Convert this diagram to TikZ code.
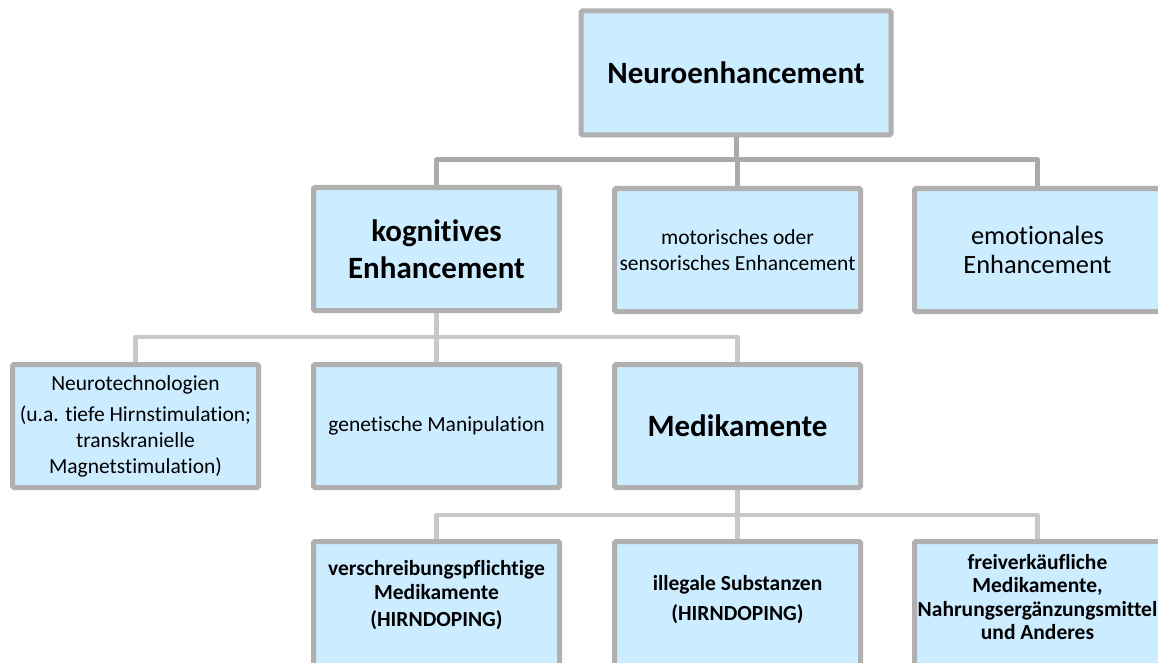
\documentclass[tikz,border=0pt]{standalone}
\usepackage{fontspec}
\setmainfont[Ligatures=NoCommon]{Carlito}
\usetikzlibrary{backgrounds}
\definecolor{boxfill}{HTML}{CCECFF}
\definecolor{boxline}{HTML}{B0B0B0}
\definecolor{conndark}{HTML}{AAAAAA}
\definecolor{connlight}{HTML}{C8C8C8}
\begin{document}
\begin{tikzpicture}[x=1pt,y=-1pt,
  box/.style={draw=boxline, line width=5pt, fill=boxfill, rounded corners=1.5pt,
    minimum width=246pt, minimum height=123pt, inner sep=2pt, align=center, text=black},
  bigtext/.style={font=\fontsize{31}{36.5}\selectfont\bfseries},
  smalltext/.style={font=\fontsize{21.5}{26}\selectfont},
  smallbold/.style={font=\fontsize{21.5}{23.5}\selectfont\bfseries, align=center, inner sep=0pt},
  midtext/.style={font=\fontsize{26.4}{29}\selectfont},
  connA/.style={draw=conndark, line width=5pt, line join=round},
  connB/.style={draw=connlight, line width=4.5pt, line join=round},
]
\useasboundingbox (0,0) rectangle (1158,663);
\clip (0,0) rectangle (1158,663);

% level 1
\node[box, bigtext, minimum width=310pt, minimum height=124pt] (top) at (736,73) {Neuroenhancement};
% level 2
\node[box, bigtext] (kog) at (436.5,249) {kognitives\\Enhancement};
\node[box, smalltext] (mot) at (737.5,250) {motorisches oder\\sensorisches Enhancement};
\node[box, midtext] (emo) at (1037.5,250) {emotionales\\Enhancement};
% level 3
\node[box, smalltext] (neu) at (135.5,426) {Neurotechnologien\\[5pt](u.a. tiefe Hirnstimulation;\\transkranielle\\Magnetstimulation)};
\node[box, smalltext] (gen) at (436.5,426) {genetische Manipulation};
\node[box, bigtext] (med) at (737.5,426) {Medikamente};
% level 4
\node[box, minimum height=160pt] (ver) at (436.5,621.5) {};
\node[box, minimum height=160pt] (ill) at (737.5,621.5) {};
\node[box, minimum height=160pt] (fre) at (1037.5,621.5) {};
\node[smallbold] (verT) at (436.5,595) {verschreibungspflichtige\\Medikamente\\[3.5pt](HIRNDOPING)};
\node[smallbold] (illT) at (737.5,600) {illegale Substanzen\\[6.5pt](HIRNDOPING)};
\node[smallbold, font=\fontsize{21.5}{23.3}\selectfont\bfseries] (freT) at (1037.5,597) {freiverkäufliche\\Medikamente,\\Nahrungsergänzungsmittel\\und Anderes};

\coordinate (bus1) at (737,160);
\coordinate (bus2) at (437,337);
\coordinate (bus3) at (737,515);

\begin{pgfonlayer}{background}
\draw[connA] (top.south) -- (top.south |- bus1);
\draw[connA] (kog.north) -- (kog.north |- bus1) -- (emo.north |- bus1) -- (emo.north);
\draw[connA] (mot.north) -- (mot.north |- bus1);
\draw[connB] (kog.south) -- (kog.south |- bus2);
\draw[connB] (neu.north) -- (neu.north |- bus2) -- (med.north |- bus2) -- (med.north);
\draw[connB] (gen.north) -- (gen.north |- bus2);
\draw[connB] (med.south) -- (med.south |- bus3);
\draw[connB] (ver.north) -- (ver.north |- bus3) -- (fre.north |- bus3) -- (fre.north);
\draw[connB] (ill.north) -- (ill.north |- bus3);
\end{pgfonlayer}
\end{tikzpicture}
\end{document}
